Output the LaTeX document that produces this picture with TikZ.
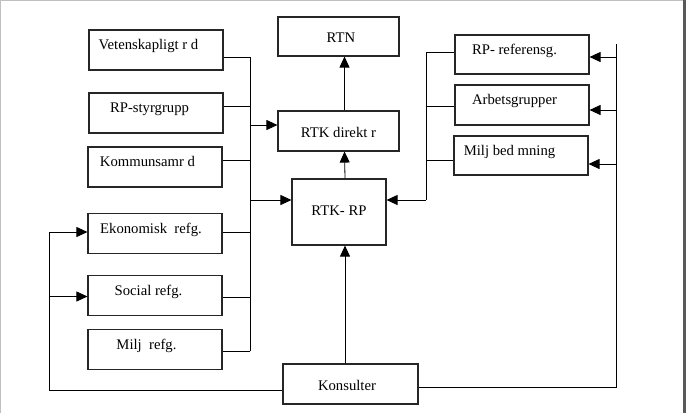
\documentclass[tikz,border=0pt]{standalone}
\usepackage{fontspec}
\setmainfont{Liberation Serif}
\usetikzlibrary{arrows.meta}
\usetikzlibrary{positioning}
\tikzstyle{normalLine}=[line width=1pt]
\tikzstyle{smallLine}=[line width=.8pt]
\tikzstyle{Box}=[draw=black!85,line width=1.1pt,rectangle,inner sep=0pt,minimum width=134pt,minimum height=40pt,text height=10pt,text depth=4pt,font=\fontsize{14.7}{17}\selectfont]
\tikzstyle{Up}=[text depth=11pt]
\tikzstyle{Mid}=[text height=16pt]
\tikzstyle{Lft}=[execute at end node={\hspace*{#1}}]
\tikzstyle{Line}=[smallLine]
\tikzstyle{Arrow}=[smallLine,-{Triangle[length=11pt,width=10pt]}]

\begin{document}
\begin{tikzpicture}[x=1pt,y=-1pt]

  \useasboundingbox (0,0) rectangle (686,413);

  % Frame
  \draw[black!25,line width=.8pt] (.5,413)--(.5,.5)--(684,.5);
  \draw[black!65,line width=3pt] (684.5,0)--(684.5,413);

  % Left boxes
  \node[Box,Up,Lft=15pt] (vet) at (156,50) {Vetenskapligt r d};
  \node[Box,Up,Lft=13pt] (styr) at (156,113) {RP-styrgrupp};
  \node[Box,Up,Lft=15pt] (komm) at (155,167) {Kommunsamr d};
  \node[Box,Up,Lft=8pt] (ekon) at (155,233.5) {Ekonomisk\ \ refg.};
  \node[Box,Up,Lft=13pt] (soc) at (155,295.5) {Social refg.};
  \node[Box,Up,Lft=17pt] (miljo) at (155,349.5) {Milj\ \ refg.};

  % Middle boxes
  \node[Box,Mid,minimum width=121pt,minimum height=39pt] (rtn) at (338.5,36.5) {\hspace*{5pt}RTN};
  \node[Box,Mid,minimum width=121pt] (dir) at (338.5,131) {RTK direkt r};
  \node[Box,minimum width=94pt,minimum height=66pt] (rp) at (339,212) {RTK- RP};
  \node[Box,Mid,minimum width=135pt,Lft=7pt] (kons) at (350.5,384) {Konsulter};

  % Right boxes
  \node[Box,Up,minimum height=39pt,Lft=15pt] (ref) at (522,54.5) {RP- referensg.};
  \node[Box,Up,Lft=15pt] (arb) at (522,105) {Arbetsgrupper};
  \node[Box,Up,minimum height=39pt,Lft=23pt] (bed) at (521,155.5) {Milj bed mning};

  % Bus ends
  \coordinate (lbus) at (250,351);
  \coordinate (rbus) at (426,200);
  \coordinate (fbus) at (616,44);
  \coordinate (lloop) at (49,232);

  % Left bus
  \draw[Line] ([yshift=-7pt]vet.east) -| (lbus);
  \draw[Line] ([yshift=7pt]styr.east) -| (lbus);
  \draw[Line] ([yshift=7pt]komm.east) -| (lbus);
  \draw[Line] ([yshift=1.5pt]ekon.east) -| (lbus);
  \draw[Line] ([yshift=-1.5pt]soc.east) -| (lbus);
  \draw[Line] ([yshift=-1.5pt]miljo.east) -- (lbus);
  \draw[Arrow] (lbus) |- ([yshift=6pt]dir.west);
  \draw[Arrow] (lbus) |- ([yshift=12pt]rp.west);

  % Vertical arrows
  \draw[Arrow] ([xshift=6pt]rp.north) -- ([xshift=6pt]dir.south);
  \draw[Arrow] ([xshift=6pt]dir.north) -- ([xshift=6pt]rtn.south);
  \draw[Arrow] ([xshift=-5.5pt]kons.north) -- ([xshift=6pt]rp.south);

  % Right bus
  \draw[Line] ([yshift=2.5pt]ref.west) -| (rbus);
  \draw[Line] ([yshift=-1pt]arb.west) -| (rbus);
  \draw[Line] ([yshift=-4.5pt]bed.west) -| (rbus);
  \draw[Arrow] (rbus) -- ([yshift=12pt]rp.east);

  % Far right bus
  \draw[Line] ([yshift=-3pt]kons.east) -| (fbus);
  \draw[Arrow] (fbus) |- ([yshift=-2.5pt]ref.east);
  \draw[Arrow] (fbus) |- ([yshift=-5pt]arb.east);
  \draw[Arrow] (fbus) |- ([yshift=-8.5pt]bed.east);

  % Left loop
  \draw[Line] ([yshift=-6pt]kons.west) -| (lloop);
  \draw[Arrow] (lloop) -- ([yshift=1.5pt]ekon.west);
  \draw[Arrow] (lloop) |- ([yshift=-1pt]soc.west);

\end{tikzpicture}
\end{document}
